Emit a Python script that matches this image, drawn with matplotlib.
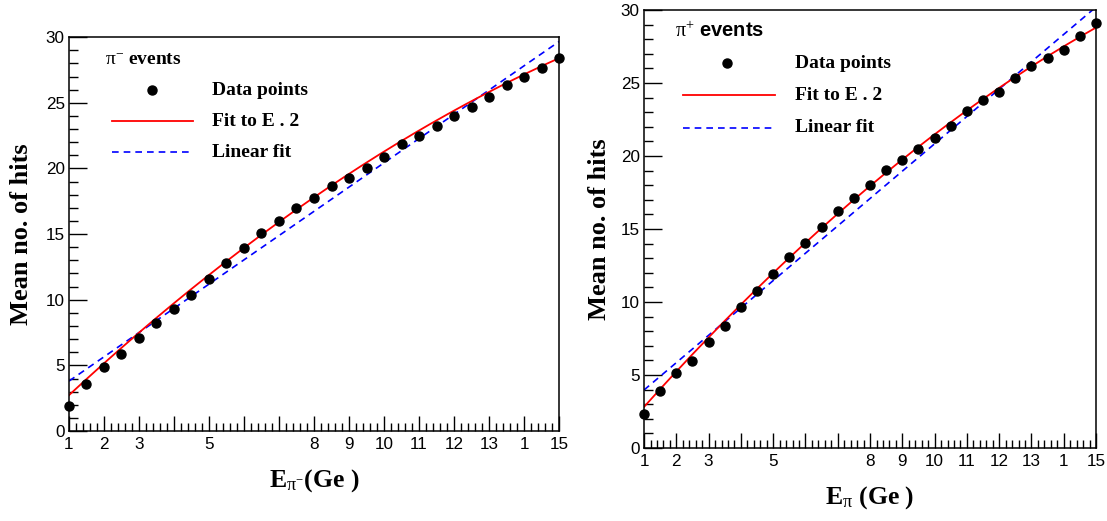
import numpy as np
import matplotlib.pyplot as plt
from matplotlib.ticker import MultipleLocator, FixedLocator

plt.rcParams['font.family'] = 'Liberation Sans'
plt.rcParams['mathtext.fontset'] = 'custom'
plt.rcParams['mathtext.rm'] = 'Liberation Serif'
plt.rcParams['mathtext.it'] = 'Liberation Serif:italic'
plt.rcParams['mathtext.bf'] = 'Liberation Serif:bold'

# beam energies (GeV), same for both charges
energy = np.arange(1, 15.5, 0.5)

# mean number of hits, pi- sample
hits_pim = [1.92, 3.57, 4.89, 5.90, 7.06, 8.20, 9.29, 10.38, 11.57, 12.78,
            13.95, 15.10, 15.98, 16.99, 17.77, 18.63, 19.30, 20.05, 20.90, 21.85,
            22.50, 23.20, 23.97, 24.67, 25.45, 26.35, 26.97, 27.67, 28.38]

# mean number of hits, pi+ sample
hits_pip = [2.36, 3.92, 5.11, 5.96, 7.29, 8.35, 9.63, 10.73, 11.95, 13.09,
            14.07, 15.16, 16.23, 17.11, 18.02, 19.02, 19.70, 20.50, 21.23, 22.07,
            23.10, 23.87, 24.41, 25.32, 26.15, 26.74, 27.29, 28.20, 29.11]

# Eq. 2 fit curve, values at E = 1, 8, 15 GeV
fit_e = [1, 8, 15]
fit_pim = [2.73, 17.8, 28.4]
fit_pip = [2.82, 17.95, 28.8]

xticks = list(range(1, 16))
xticklabels = ['1', '2', '3', '', '5', '', '', '8', '9', '10', '11', '12', '13', '1', '15']

serif_bold = dict(family='Liberation Serif', fontweight='bold')

fig = plt.figure(figsize=(11.07, 5.21), dpi=100)
ax1 = fig.add_axes([0.0623, 0.1727, 0.4427, 0.756])
ax2 = fig.add_axes([0.5818, 0.140, 0.4083, 0.8407])


def draw_panel(ax, hits, fit_vals, ypad):
    e = np.linspace(1, 15, 200)
    quad = np.polyfit(fit_e, fit_vals, 2)
    lin = np.polyfit(energy, hits, 1)
    ax.plot(e, np.polyval(lin, e), color='#0000ff', lw=1.2, ls=(0, (4, 3)))
    ax.plot(e, np.polyval(quad, e), color='#ff0000', lw=1.3)
    ax.plot(energy, hits, 'o', color='black', ms=6.5, clip_on=False, zorder=5)

    ax.set_xlim(1, 15)
    ax.set_ylim(0, 30)
    ax.xaxis.set_major_locator(FixedLocator(xticks))
    ax.set_xticklabels(xticklabels)
    ax.xaxis.set_minor_locator(MultipleLocator(0.2))
    ax.yaxis.set_major_locator(MultipleLocator(5))
    ax.yaxis.set_minor_locator(MultipleLocator(1))
    ax.tick_params(which='both', direction='in', top=False, right=False,
                   labelsize=12.3, width=1)
    ax.tick_params(axis='x', which='major', length=11, pad=4)
    ax.tick_params(axis='x', which='minor', length=5.5)
    ax.tick_params(axis='y', which='major', length=13, pad=3)
    ax.tick_params(axis='y', which='minor', length=6.5)
    for sp in ax.spines.values():
        sp.set_linewidth(1.1)
    ax.set_ylabel('Mean no. of hits', fontsize=19, labelpad=ypad, **serif_bold)


draw_panel(ax1, hits_pim, fit_pim, 9)
draw_panel(ax2, hits_pip, fit_pip, 7)

ax1.set_xlabel(r'E$_{\mathrm{π}^{\mathrm{-}}}$(Ge )', fontsize=18.5, labelpad=11, **serif_bold)
ax2.set_xlabel(r'E$_{\mathrm{π}}$ (Ge )', fontsize=18.5, labelpad=11, **serif_bold)

# legend block, left panel
ax1.text(0.073, 0.942, r'$\mathrm{π}^{\mathrm{-}}$ events', transform=ax1.transAxes,
         fontsize=14, va='center', **serif_bold)
ax1.plot([0.169], [0.865], 'o', color='black', ms=6.5, transform=ax1.transAxes)
ax1.plot([0.088, 0.253], [0.787, 0.787], color='#ff0000', lw=1.3, transform=ax1.transAxes)
ax1.plot([0.088, 0.253], [0.708, 0.708], color='#0000ff', lw=1.2, ls=(0, (4, 3)),
         transform=ax1.transAxes)
for y, s in zip([0.865, 0.787, 0.708], ['Data points', 'Fit to E . 2', 'Linear fit']):
    ax1.text(0.292, y, s, transform=ax1.transAxes, fontsize=14, va='center', **serif_bold)

# legend block, right panel
ax2.text(0.068, 0.952, r'$\mathrm{π}^{+}$ events', transform=ax2.transAxes,
         fontsize=14.5, va='center', fontweight='bold', family='Liberation Sans')
ax2.plot([0.184], [0.879], 'o', color='black', ms=6.5, transform=ax2.transAxes)
ax2.plot([0.086, 0.29], [0.806, 0.806], color='#ff0000', lw=1.3, transform=ax2.transAxes)
ax2.plot([0.086, 0.29], [0.731, 0.731], color='#0000ff', lw=1.2, ls=(0, (4, 3)),
         transform=ax2.transAxes)
for y, s in zip([0.879, 0.806, 0.731], ['Data points', 'Fit to E . 2', 'Linear fit']):
    ax2.text(0.334, y, s, transform=ax2.transAxes, fontsize=14, va='center', **serif_bold)

fig.savefig('out.png', dpi=100)
